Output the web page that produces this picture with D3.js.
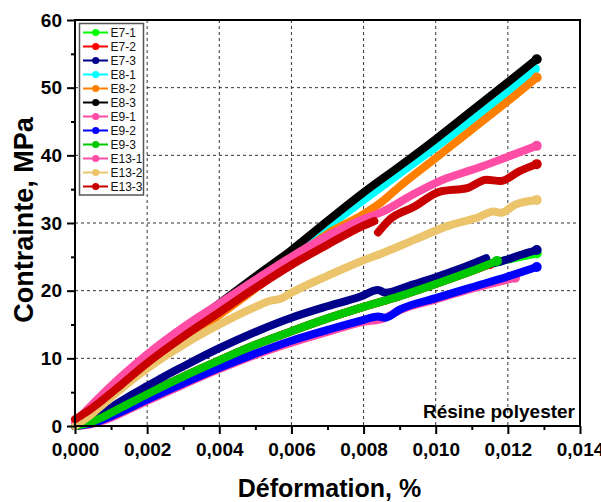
<!DOCTYPE html>
<html>
<head>
<meta charset="utf-8">
<script src="https://cdn.jsdelivr.net/npm/d3@7/dist/d3.min.js"></script>
<style>
  html, body { margin: 0; padding: 0; background: #fff; }
  svg { display: block; }
  text { font-family: "Liberation Sans", Arial, sans-serif; }
</style>
</head>
<body>
<svg id="chart" width="601" height="502"></svg>
<script>
// Specimen names, colours and stress–strain readings (strain, stress in MPa).
// A null entry marks a break in a record.
const specimens = ["E7-1","E7-2","E7-3","E8-1","E8-2","E8-3","E9-1","E9-2","E9-3","E13-1","E13-2","E13-3"];
const colors = ["#00ff00","#ff0000","#00008b","#00ffff","#ff8000","#000000","#ff4da6","#0000ff","#00c800","#ff4da6","#ebc46c","#c80000"];

const strainE7_1 = [0, 0.0004, 0.0008, 0.0012, 0.0016, 0.002, 0.003, 0.004, 0.005, 0.006, 0.007, 0.008, 0.009, 0.010, 0.011, 0.0117, 0.0122, 0.0128];
const stressE7_1 = [0, 0.5, 1.4, 2.5, 3.6, 4.7, 7.3, 9.7, 12.0, 14.0, 15.9, 17.6, 19.2, 21.0, 22.9, 24.2, 24.8, 25.5];

const strainE7_2 = [0, 0.0004, 0.0008, 0.0012, 0.0016, 0.002, 0.003, 0.004, 0.005, 0.006, 0.007, 0.008, 0.009, 0.010, 0.011, 0.0115];
const stressE7_2 = [0, 0.5, 1.4, 2.5, 3.6, 4.7, 7.3, 9.7, 12.0, 14.0, 15.9, 17.6, 19.2, 21.0, 22.9, 23.9];

const strainE7_3 = [0, 0.0004, 0.0008, 0.0012, 0.0016, 0.002, 0.0025, 0.003, 0.004, 0.005, 0.006, 0.007, 0.0079, 0.0084, 0.0086, 0.0093, 0.0099, 0.0107, 0.0114, null, 0.0115, 0.0118, 0.0123, 0.0128];
const stressE7_3 = [0, 0.8, 2.0, 3.4, 4.7, 5.9, 7.4, 8.8, 11.5, 13.9, 16.0, 17.7, 19.1, 20.1, 19.7, 20.8, 21.8, 23.3, 24.8, null, 24.0, 24.3, 25.2, 26.0];

const strainE8_1 = [0, 0.0005, 0.001, 0.002, 0.003, 0.004, 0.005, 0.006, 0.007, 0.008, 0.009, 0.010, 0.011, 0.012, 0.01275];
const stressE8_1 = [0, 2.7, 5.2, 9.7, 13.8, 17.7, 21.6, 25.4, 29.4, 33.4, 37.3, 41.2, 45.2, 49.3, 52.8];

const strainE8_2 = [0, 0.0005, 0.001, 0.002, 0.003, 0.0035, 0.004, 0.005, 0.006, 0.007, 0.008, 0.0085, 0.009, 0.010, 0.011, 0.012, 0.0128];
const stressE8_2 = [0, 2.6, 5.0, 9.3, 12.9, 14.5, 16.4, 20.3, 24.4, 28.4, 31.3, 33.1, 35.4, 39.6, 43.8, 48.0, 51.5];

const strainE8_3 = [0, 0.0005, 0.001, 0.002, 0.003, 0.004, 0.005, 0.006, 0.007, 0.008, 0.009, 0.010, 0.011, 0.012, 0.0128];
const stressE8_3 = [0, 2.8, 5.3, 9.9, 14.0, 18.1, 22.1, 26.0, 30.3, 34.5, 38.4, 42.4, 46.6, 50.8, 54.2];

const strainE9_1 = [0, 0.0004, 0.0008, 0.0012, 0.0016, 0.002, 0.003, 0.004, 0.005, 0.006, 0.007, 0.008, 0.0085, 0.009, 0.010, 0.011, 0.0122];
const stressE9_1 = [0, 0.2, 0.8, 1.7, 2.7, 3.7, 6.1, 8.4, 10.5, 12.3, 13.9, 15.4, 15.8, 17.1, 18.7, 20.3, 21.9];

const strainE9_2 = [0, 0.0004, 0.0008, 0.0012, 0.0016, 0.002, 0.003, 0.004, 0.005, 0.006, 0.007, 0.008, 0.0084, 0.0086, 0.009, 0.010, 0.011, 0.012, 0.0128];
const stressE9_2 = [0, 0.3, 1.0, 1.9, 2.9, 3.9, 6.3, 8.6, 10.7, 12.6, 14.2, 15.7, 16.2, 16.0, 17.2, 18.9, 20.5, 22.1, 23.5];

const strainE9_3 = [0, 0.0004, 0.0008, 0.0012, 0.0016, 0.002, 0.003, 0.004, 0.005, 0.006, 0.007, 0.008, 0.009, 0.010, 0.011, 0.0117];
const stressE9_3 = [0, 0.5, 1.4, 2.5, 3.6, 4.7, 7.3, 9.7, 12.0, 14.0, 15.9, 17.6, 19.2, 21.0, 22.9, 24.4];

const strainE13_1 = [0, 0.0003, 0.0008, 0.0013, 0.002, 0.003, 0.004, 0.005, 0.006, 0.007, 0.008, 0.0085, 0.0094, 0.0103, 0.0108, 0.0112, 0.0120, 0.0128];
const stressE13_1 = [0.5, 2.2, 4.9, 7.4, 10.6, 14.6, 18.1, 21.6, 25.0, 28.1, 30.6, 31.6, 34.3, 36.6, 37.5, 38.2, 39.8, 41.4];

const strainE13_2 = [0, 0.0004, 0.0008, 0.0013, 0.002, 0.003, 0.004, 0.005, 0.0054, 0.0057, 0.006, 0.007, 0.008, 0.0085, 0.0094, 0.0103, 0.0112, 0.0116, 0.0118, 0.0122, 0.0128];
const stressE13_2 = [0, 1.5, 3.3, 5.6, 8.5, 12.0, 15.0, 17.6, 18.5, 18.8, 19.7, 22.2, 24.5, 25.5, 27.5, 29.5, 30.9, 31.7, 31.5, 32.7, 33.4];

const strainE13_3 = [0, 0.0003, 0.0008, 0.0013, 0.002, 0.003, 0.004, 0.005, 0.006, 0.007, 0.008, 0.0083, null, 0.0084, 0.0087, 0.0094, 0.0101, 0.0109, 0.0114, 0.0118, 0.0123, 0.0128];
const stressE13_3 = [1.0, 2.0, 4.0, 6.2, 9.3, 13.2, 16.8, 20.4, 23.8, 26.8, 29.6, 30.3, null, 28.6, 30.4, 32.4, 34.6, 35.2, 36.4, 36.2, 37.6, 38.7];

const strains = [strainE7_1, strainE7_2, strainE7_3, strainE8_1, strainE8_2, strainE8_3, strainE9_1, strainE9_2, strainE9_3, strainE13_1, strainE13_2, strainE13_3];
const stresses = [stressE7_1, stressE7_2, stressE7_3, stressE8_1, stressE8_2, stressE8_3, stressE9_1, stressE9_2, stressE9_3, stressE13_1, stressE13_2, stressE13_3];

const xTicks = [0, 0.002, 0.004, 0.006, 0.008, 0.010, 0.012, 0.014];
const xMinorTicks = [0.001, 0.003, 0.005, 0.007, 0.009, 0.011, 0.013];
const yTicks = [0, 10, 20, 30, 40, 50, 60];
const yMinorTicks = [5, 15, 25, 35, 45, 55];

const xTitle = "Déformation, %";
const yTitle = "Contrainte, MPa";
const note = "Résine polyester";

// Plot frame in pixels
const frame = { left: 75, right: 580, top: 20, bottom: 426 };
const svg = d3.select("#chart");
const x = d3.scaleLinear().domain([0, 0.014]).range([frame.left, frame.right]);
const y = d3.scaleLinear().domain([0, 60]).range([frame.bottom, frame.top]);
const fmt = v => d3.format(".3f")(v).replace(".", ",");

// Dashed grid
const grid = svg.append("g").attr("stroke", "#333").attr("stroke-width", 1).attr("stroke-dasharray", "3,3");
xTicks.slice(1, -1).forEach(t => grid.append("line").attr("x1", x(t)).attr("x2", x(t)).attr("y1", frame.top).attr("y2", frame.bottom));
yTicks.slice(1, -1).forEach(t => grid.append("line").attr("y1", y(t)).attr("y2", y(t)).attr("x1", frame.left).attr("x2", frame.right));

// Curves
const curves = svg.append("g");
const line = d3.line()
  .defined(d => d[0] !== null && d[1] !== null)
  .curve(d3.curveMonotoneX)
  .x(d => x(d[0])).y(d => y(d[1]));
specimens.forEach((name, i) => {
  const pts = d3.zip(strains[i], stresses[i]);
  curves.append("path")
    .attr("d", line(pts))
    .attr("fill", "none")
    .attr("stroke", colors[i])
    .attr("stroke-width", 8)
    .attr("stroke-linecap", "round")
    .attr("stroke-linejoin", "round");
  const last = pts[pts.length - 1];
  curves.append("circle")
    .attr("cx", x(last[0])).attr("cy", y(last[1])).attr("r", 5)
    .attr("fill", colors[i]);
});

// Axes
const axisBottom = d3.axisBottom(x).tickValues(xTicks).tickFormat(fmt).tickSize(8).tickPadding(9);
const axisBottomMinor = d3.axisBottom(x).tickValues(xMinorTicks).tickFormat("").tickSize(4);
const axisLeft = d3.axisLeft(y).tickValues(yTicks).tickFormat(d3.format("d")).tickSize(8).tickPadding(5);
const axisLeftMinor = d3.axisLeft(y).tickValues(yMinorTicks).tickFormat("").tickSize(4);

function styleAxis(g) {
  g.select(".domain").remove();
  g.selectAll(".tick line").attr("stroke", "#000").attr("stroke-width", 2);
  g.selectAll(".tick text").attr("fill", "#000")
    .style("font-family", "'Liberation Sans', Arial, sans-serif")
    .style("font-weight", "bold").style("font-size", "19px");
}
svg.append("g").attr("transform", `translate(0,${frame.bottom})`).call(axisBottom).call(styleAxis);
svg.append("g").attr("transform", `translate(0,${frame.bottom})`).call(axisBottomMinor).call(styleAxis);
svg.append("g").attr("transform", `translate(${frame.left},0)`).call(axisLeft).call(styleAxis);
svg.append("g").attr("transform", `translate(${frame.left},0)`).call(axisLeftMinor).call(styleAxis);

// Frame
svg.append("rect").attr("x", frame.left).attr("y", frame.top)
  .attr("width", frame.right - frame.left).attr("height", frame.bottom - frame.top)
  .attr("fill", "none").attr("stroke", "#000").attr("stroke-width", 2);

// Titles
svg.append("text").attr("x", (frame.left + frame.right) / 2 + 2).attr("y", 497)
  .attr("text-anchor", "middle").style("font-weight", "bold").style("font-size", "25px").text(xTitle);
svg.append("text").attr("transform", `translate(33,${(frame.top + frame.bottom) / 2 - 3}) rotate(-90)`)
  .attr("text-anchor", "middle").style("font-weight", "bold").style("font-size", "27px").text(yTitle);
svg.append("text").attr("x", 575).attr("y", 418).attr("text-anchor", "end")
  .style("font-weight", "bold").style("font-size", "19px").text(note);

// Legend
const lg = svg.append("g");
lg.append("rect").attr("x", 79.5).attr("y", 23.5).attr("width", 64).attr("height", 171.5)
  .attr("fill", "#fff").attr("stroke", "#555").attr("stroke-width", 1.5);
specimens.forEach((name, i) => {
  const cy = 32.5 + i * 14;
  lg.append("line").attr("x1", 83).attr("x2", 108).attr("y1", cy).attr("y2", cy)
    .attr("stroke", colors[i]).attr("stroke-width", 2);
  lg.append("circle").attr("cx", 95.7).attr("cy", cy).attr("r", 3.6).attr("fill", colors[i]);
  lg.append("text").attr("x", 110.5).attr("y", cy + 4.3)
    .style("font-size", "12px").attr("fill", "#111").text(name);
});
</script>
</body>
</html>
